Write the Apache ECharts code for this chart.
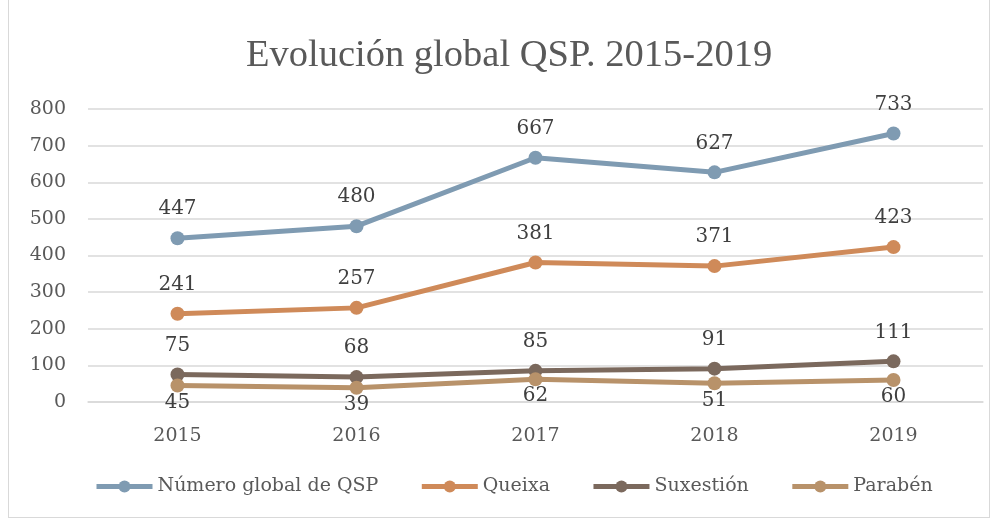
<!DOCTYPE html>
<html>
<head>
<meta charset="utf-8">
<script src="https://cdn.jsdelivr.net/npm/echarts@6/dist/echarts.min.js"></script>
<style>
html, body { margin: 0; padding: 0; background: #fff; }
#container { position: absolute; left: 8px; top: -2px; width: 982px; height: 520px; border: 1px solid #d9d9d9; box-sizing: border-box; }
</style>
</head>
<body>
<div id="container"></div>
<script>
var years = ["2015", "2016", "2017", "2018", "2019"];
var totalQSP = [447, 480, 667, 627, 733];
var queixa = [241, 257, 381, 371, 423];
var suxestion = [75, 68, 85, 91, 111];
var paraben = [45, 39, 62, 51, 60];
var yTicks = [0, 100, 200, 300, 400, 500, 600, 700, 800];

var font = "DejaVu Serif";
var titleFont = "Liberation Serif";
var dom = document.getElementById("container");
var myChart = echarts.init(dom, null, { renderer: "canvas" });

function lineSeries(name, data, color, pos, dist) {
    return {
        name: name,
        type: "line",
        data: data,
        symbol: "circle",
        symbolSize: 14,
        lineStyle: { width: 5, color: color },
        itemStyle: { color: color },
        label: {
            show: true,
            position: pos,
            distance: dist,
            color: "#404040",
            fontFamily: font,
            fontSize: 20
        }
    };
}

var option = {
    animation: false,
    title: {
        text: "Evolución global QSP. 2015-2019",
        left: 232,
        top: 32,
        textStyle: { fontFamily: titleFont, fontSize: 38.5, fontWeight: "normal", color: "#595959" }
    },
    grid: { left: 79, right: 6, top: 110, bottom: 115 },
    legend: {
        left: 80,
        bottom: 16,
        itemWidth: 56,
        itemHeight: 15,
        itemGap: 41,
        lineStyle: { width: 5 },
        textStyle: { fontFamily: font, fontSize: 19, color: "#595959" },
        data: ["Número global de QSP", "Queixa", "Suxestión", "Parabén"]
    },
    xAxis: {
        type: "category",
        data: years,
        axisLine: { lineStyle: { color: "#d9d9d9", width: 1.5 } },
        axisTick: { show: false },
        axisLabel: { fontFamily: font, fontSize: 19, color: "#595959", margin: 25 }
    },
    yAxis: {
        type: "value",
        min: yTicks[0],
        max: yTicks[yTicks.length - 1],
        interval: 100,
        axisLine: { show: false },
        axisTick: { show: false },
        axisLabel: { fontFamily: font, fontSize: 19, color: "#595959", margin: 22 },
        splitLine: { lineStyle: { color: "#d9d9d9", width: 1.5 } }
    },
    series: [
        lineSeries("Número global de QSP", totalQSP, "#7f9bb2", "top", 12),
        lineSeries("Queixa", queixa, "#cf8a59", "top", 12),
        lineSeries("Suxestión", suxestion, "#7b695d", "top", 12),
        lineSeries("Parabén", paraben, "#b8926a", "bottom", 0)
    ]
};

myChart.setOption(option);
window.addEventListener("resize", myChart.resize);
</script>
</body>
</html>
